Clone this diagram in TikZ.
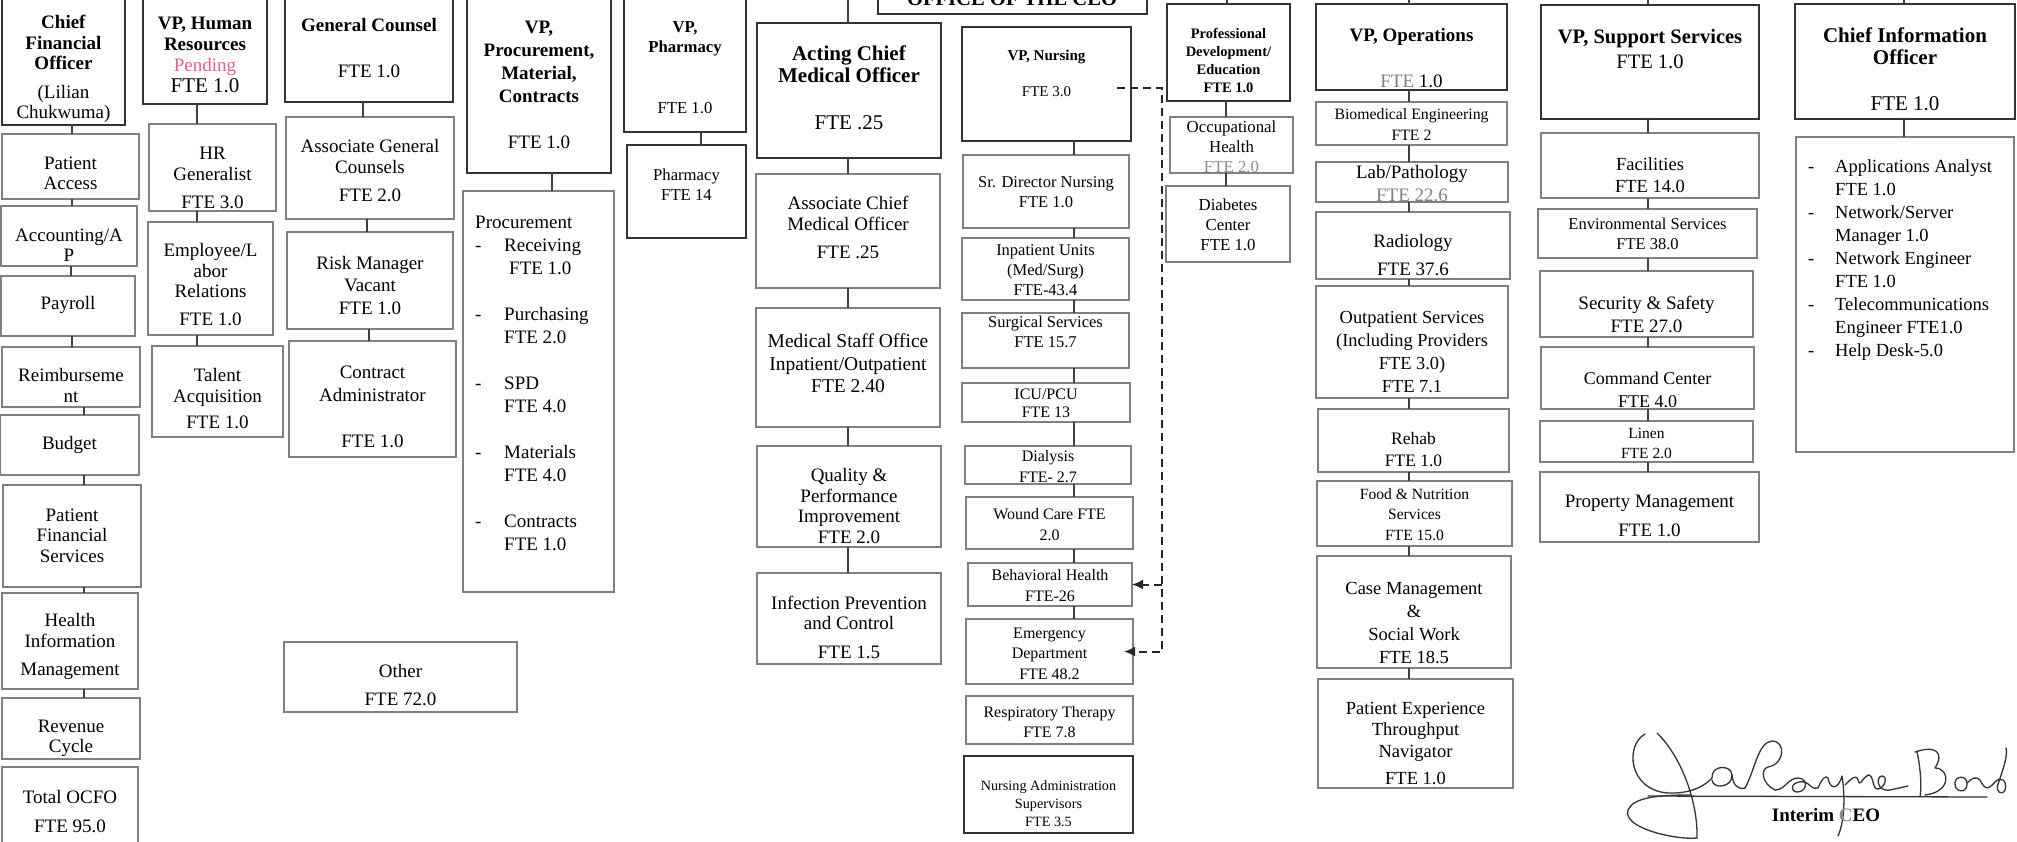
\documentclass[tikz,border=0pt]{standalone}
\usepackage{fontspec}
\setmainfont{Liberation Serif}
\usetikzlibrary{arrows.meta}
\definecolor{pend}{RGB}{232,96,128}
\newcommand\fs[2]{\fontsize{#1pt}{#2pt}\selectfont}
\newcommand\bx[9]{%
 \node[#6, minimum width={(#4)-(#2)}, minimum height={(#5)-(#3)}] (#1) at ({((#2)+(#4))/2},{((#3)+(#5))/2}) {};
 \node[txt, font=#8] (#1-t) at ({((#2)+(#4))/2},#7) {#9};}
\newcommand\vc[3]{\draw[conn] (#3,0 |- #1.south) -- (#3,0 |- #2.north);}
\begin{document}
\begin{tikzpicture}[x=1pt,y=-1pt,
  box/.style={rectangle, draw=black!50, line width=1.4pt, inner sep=0pt, outer sep=0pt},
  tbox/.style={rectangle, draw=black!80, line width=2pt, inner sep=0pt, outer sep=0pt},
  txt/.style={align=center, inner sep=0pt, outer sep=0pt},
  conn/.style={draw=black!75, line width=1.8pt},
  dsh/.style={draw=black!85, line width=2pt, dash pattern=on 8pt off 5pt, -{Latex[length=11pt,width=10pt]}},
  sig/.style={draw=black!80, line width=1.3pt, line cap=round, line join=round}]
\fill[white] (0,0) rectangle (2017,841);
\useasboundingbox (0,0) rectangle (2017,841);

% ---- CEO box (cut at top)
\node[tbox, minimum width=269, minimum height=40] (ceo) at (1012.5,-6) {};
\node[anchor=base, inner sep=0pt, font=\fs{20.6}{22}\bfseries] (ceo-t) at (1012,5) {OFFICE OF THE CEO};

% ---- CFO column
\bx{cfo}{2}{-10}{125}{125}{tbox}{69}{\fs{19}{20.5}}{\textbf{Chief}\\\textbf{Financial}\\\textbf{Officer}\\[8pt](Lilian\\Chukwuma)}
\bx{pa}{2}{134}{139}{199}{box}{173}{\fs{19}{20}}{Patient\\Access}
\bx{acc}{1}{206}{137}{266}{box}{245}{\fs{19}{20}}{Accounting/A\\P}
\bx{pay}{1}{276}{135}{336}{box}{305}{\fs{19}{20}}{Payroll}
\bx{reim}{2}{347}{140}{407}{box}{385.5}{\fs{19}{21}}{Reimburseme\\nt}
\bx{bud}{0}{415}{139}{475}{box}{445}{\fs{19}{20}}{Budget}
\bx{pfs}{3}{485}{141}{587}{box}{535.5}{\fs{19}{20.5}}{Patient\\Financial\\Services}
\bx{him}{2}{593}{138}{689}{box}{646.5}{\fs{19}{21}}{Health\\Information\\[7pt]Management}
\bx{rev}{2}{698}{140}{759}{box}{738}{\fs{19}{20}}{Revenue\\Cycle}
\bx{tot}{2}{767}{138}{850}{box}{811.5}{\fs{19}{21}}{Total OCFO\\[8pt]FTE 95.0}
\vc{cfo}{pa}{72}\vc{pa}{acc}{72}\vc{acc}{pay}{71}\vc{pay}{reim}{72}
\vc{reim}{bud}{84}\vc{bud}{pfs}{84}\vc{pfs}{him}{84}\vc{him}{rev}{84}

% ---- HR column
\bx{vphr}{143}{-10}{267}{104}{tbox}{54.5}{\fs{19}{21}}{\textbf{VP, Human}\\\textbf{Resources}\\{\color{pend}Pending}\\{\fs{21}{21}FTE 1.0}}
\bx{hrg}{149}{124}{276}{211}{box}{177.5}{\fs{19}{21}}{HR\\Generalist\\[7pt]FTE 3.0}
\bx{elr}{148}{222}{273}{335}{box}{284.5}{\fs{19}{20.5}}{Employee/L\\abor\\Relations\\[7pt]FTE 1.0}
\bx{ta}{152}{346}{283}{437}{box}{398.5}{\fs{19}{21}}{Talent\\Acquisition\\[5pt]FTE 1.0}
\vc{vphr}{hrg}{197}\vc{hrg}{elr}{197}\vc{elr}{ta}{197}

% ---- General Counsel column
\bx{gc}{285}{-10}{453}{102}{tbox}{48}{\fs{19}{21}}{\textbf{General Counsel}\\[25pt]FTE 1.0}
\bx{agc}{286}{117}{454}{219}{box}{170.5}{\fs{19}{21}}{Associate General\\Counsels\\[7pt]FTE 2.0}
\bx{risk}{287}{232}{453}{329}{box}{285.5}{\fs{19}{22.5}}{Risk Manager\\Vacant\\FTE 1.0}
\bx{ca}{289}{341}{456}{457}{box}{406.5}{\fs{19}{23}}{Contract\\Administrator\\[23pt]FTE 1.0}
\bx{oth}{284}{642}{517}{712}{box}{685}{\fs{19}{28}}{Other\\FTE 72.0}
\vc{gc}{agc}{363}\vc{agc}{risk}{367}\vc{risk}{ca}{369}

% ---- Procurement
\bx{vpproc}{467}{-10}{611}{173}{tbox}{84.5}{\fs{19}{23}}{\textbf{VP,}\\\textbf{Procurement,}\\\textbf{Material,}\\\textbf{Contracts}\\[23pt]FTE 1.0}
\node[box, minimum width=151, minimum height=401] (proc) at (538.5,391.5) {};
\node[anchor=west, align=left, inner sep=0pt, font=\fs{19}{23}] (proc-t) at (475,383)
 {Procurement\\\makebox[29pt][l]{-}Receiving\\\hspace*{34pt}FTE 1.0\\[23pt]\makebox[29pt][l]{-}Purchasing\\\hspace*{29pt}FTE 2.0\\[23pt]\makebox[29pt][l]{-}SPD\\\hspace*{29pt}FTE 4.0\\[23pt]\makebox[29pt][l]{-}Materials\\\hspace*{29pt}FTE 4.0\\[23pt]\makebox[29pt][l]{-}Contracts\\\hspace*{29pt}FTE 1.0};
\vc{vpproc}{proc}{552}

% ---- Pharmacy
\bx{vpph}{624}{-10}{746}{132}{tbox}{67.5}{\fs{16.7}{20}}{\textbf{VP,}\\\textbf{Pharmacy}\\[41pt]FTE 1.0}
\bx{pharm}{627}{145}{746}{238}{tbox}{185}{\fs{16.7}{20}}{Pharmacy\\FTE 14}
\vc{vpph}{pharm}{701}

% ---- CMO column
\bx{cmo}{757}{23}{941}{158}{tbox}{87.5}{\fs{21}{22}}{\textbf{Acting Chief}\\\textbf{Medical Officer}\\[25pt]FTE .25}
\bx{acmo}{756}{174}{940}{288}{box}{227.5}{\fs{19}{21}}{Associate Chief\\Medical Officer\\[7pt]FTE .25}
\bx{mso}{756}{308}{940}{427}{box}{363.5}{\fs{19.5}{22.5}}{Medical Staff Office\\Inpatient/Outpatient\\FTE 2.40}
\bx{qpi}{757}{446}{941}{547}{box}{506}{\fs{19}{20.7}}{Quality \&\\Performance\\Improvement\\FTE 2.0}
\bx{ipc}{757}{573}{941}{664}{box}{627.5}{\fs{19}{20}}{Infection Prevention\\and Control\\[9pt]FTE 1.5}
\vc{cmo}{acmo}{848}\vc{acmo}{mso}{848}\vc{mso}{qpi}{848}\vc{qpi}{ipc}{848}
\coordinate (bus-cmo) at (848,-5);
\draw[conn] (848,0 |- cmo.north) -- (bus-cmo);

% ---- Nursing column
\bx{vpn}{962}{27}{1131}{141}{tbox}{73}{\fs{15}{20}}{\textbf{VP, Nursing}\\[16pt]FTE 3.0}
\bx{srd}{963}{155}{1129}{228}{box}{192}{\fs{16.5}{20}}{Sr. Director Nursing\\FTE 1.0}
\bx{inp}{962}{238}{1129}{300}{box}{270}{\fs{16.5}{20}}{Inpatient Units\\(Med/Surg)\\FTE-43.4}
\bx{surg}{962}{313}{1129}{368}{box}{332}{\fs{16.5}{20}}{Surgical Services\\FTE 15.7}
\bx{icu}{962}{383}{1130}{422}{box}{403}{\fs{16}{18}}{ICU/PCU\\FTE 13}
\bx{dia}{965}{446}{1131}{484}{box}{466.5}{\fs{16}{20.5}}{Dialysis\\FTE- 2.7}
\bx{wc}{966}{497}{1133}{549}{box}{524.5}{\fs{16}{20.5}}{Wound Care FTE\\2.0}
\bx{bh}{968}{563}{1132}{606}{box}{585.5}{\fs{16}{20.5}}{Behavioral Health\\FTE-26}
\bx{er}{966}{619}{1133}{684}{box}{653.5}{\fs{16}{20.5}}{Emergency\\Department\\FTE 48.2}
\bx{rt}{966}{696}{1133}{744}{box}{722}{\fs{16}{20}}{Respiratory Therapy\\FTE 7.8}
\bx{nas}{964}{756}{1133}{833}{tbox}{804}{\fs{14.2}{18}}{Nursing Administration\\Supervisors\\FTE 3.5}
\vc{vpn}{srd}{1074}\vc{srd}{inp}{1074}\vc{inp}{surg}{1074}\vc{surg}{icu}{1074}
\vc{icu}{dia}{1074}\vc{dia}{wc}{1074}\vc{wc}{bh}{1074}\vc{bh}{er}{1074}
\coordinate (dk1) at (1162,88);
\draw[dsh] ([shift={(-14pt,-4pt)}]vpn.east) -- (dk1) -- (1162,0 |- er.east) -- ([xshift=-9pt]er.east);
\draw[dsh] (1162,0 |- bh.east) -- (bh.east);

% ---- Professional development
\bx{pd}{1167}{4}{1290}{101}{tbox}{60}{\fs{14.5}{18}}{\textbf{Professional}\\\textbf{Development/}\\\textbf{Education}\\\textbf{FTE 1.0}}
\bx{oh}{1170}{117}{1293}{173}{box}{147}{\fs{16.8}{20}}{Occupational\\Health\\{\color{black!45}FTE 2.0}}
\bx{dc}{1166}{186}{1290}{262}{box}{225}{\fs{16.8}{20}}{Diabetes\\Center\\FTE 1.0}
\vc{pd}{oh}{1226}\vc{oh}{dc}{1226}
\coordinate (bus-pd) at (1227,-5);
\draw[conn] (1227,0 |- pd.north) -- (bus-pd);

% ---- Operations
\bx{vpo}{1316}{4}{1507}{90}{tbox}{58}{\fs{19}{21}}{\textbf{VP, Operations}\\[25pt]{\color{black!50}FTE} 1.0}
\bx{bio}{1316}{102}{1507}{145}{box}{124.5}{\fs{15.8}{21}}{Biomedical Engineering\\FTE 2}
\bx{lab}{1316}{162}{1508}{202}{box}{183.5}{\fs{19}{23}}{Lab/Pathology\\{\color{black!50}FTE 22.6}}
\bx{rad}{1316}{212}{1510}{279}{box}{255}{\fs{19}{28}}{Radiology\\FTE 37.6}
\bx{out}{1316}{286}{1508}{398}{box}{352.5}{\fs{18.4}{23}}{Outpatient Services\\(Including Providers\\FTE 3.0)\\FTE 7.1}
\bx{reh}{1318}{409}{1509}{472}{box}{450}{\fs{17.5}{22}}{Rehab\\FTE 1.0}
\bx{fns}{1317}{481}{1512}{546}{box}{514.5}{\fs{15.6}{20.5}}{Food \& Nutrition\\Services\\FTE 15.0}
\bx{cms}{1317}{556}{1511}{668}{box}{622.5}{\fs{18.5}{23}}{Case Management\\\&\\Social Work\\FTE 18.5}
\bx{pex}{1318}{679}{1513}{788}{box}{743.5}{\fs{18.5}{21.5}}{Patient Experience\\Throughput\\Navigator\\[6pt]FTE 1.0}
\vc{vpo}{bio}{1409}\vc{bio}{lab}{1409}\vc{lab}{rad}{1409}\vc{rad}{out}{1409}
\vc{out}{reh}{1409}\vc{reh}{fns}{1409}\vc{fns}{cms}{1409}\vc{cms}{pex}{1409}
\coordinate (bus-vpo) at (1409,-5);
\draw[conn] (1409,0 |- vpo.north) -- (bus-vpo);

% ---- Support services
\bx{vps}{1541}{5}{1759}{119}{tbox}{49.5}{\fs{20.5}{25}}{\textbf{VP, Support Services}\\FTE 1.0}
\bx{fac}{1541}{133}{1759}{198}{box}{175}{\fs{18.5}{22}}{Facilities\\FTE 14.0}
\bx{env}{1538}{209}{1757}{258}{box}{234}{\fs{16.5}{20}}{Environmental Services\\FTE 38.0}
\bx{sec}{1540}{271}{1753}{337}{box}{314.5}{\fs{19}{23}}{Security \& Safety\\FTE 27.0}
\bx{cc}{1541}{347}{1754}{409}{box}{389.5}{\fs{18}{23}}{Command Center\\FTE 4.0}
\bx{lin}{1540}{421}{1753}{462}{box}{443}{\fs{15.5}{20}}{Linen\\FTE 2.0}
\bx{pm}{1540}{472}{1759}{542}{box}{515.5}{\fs{19}{29}}{Property Management\\FTE 1.0}
\vc{vps}{fac}{1648}\vc{fac}{env}{1648}\vc{env}{sec}{1648}\vc{sec}{cc}{1648}
\vc{cc}{lin}{1648}\vc{lin}{pm}{1648}
\coordinate (bus-vps) at (1648,-5);
\draw[conn] (1648,0 |- vps.north) -- (bus-vps);

% ---- CIO
\bx{cio}{1795}{4}{2015}{119}{tbox}{69}{\fs{21}{22}}{\textbf{Chief Information}\\\textbf{Officer}\\[24pt]FTE 1.0}
\node[box, minimum width=218, minimum height=315] (ciol) at (1905,294.5) {};
\node[anchor=west, align=left, inner sep=0pt, font=\fs{18.5}{23}] (ciol-t) at (1808,260)
 {\makebox[27pt][l]{-}Applications Analyst\\\hspace*{27pt}FTE 1.0\\\makebox[27pt][l]{-}Network/Server\\\hspace*{27pt}Manager 1.0\\\makebox[27pt][l]{-}Network Engineer\\\hspace*{27pt}FTE 1.0\\\makebox[27pt][l]{-}Telecommunications\\\hspace*{27pt}Engineer FTE1.0\\\makebox[27pt][l]{-}Help Desk-5.0};
\vc{cio}{ciol}{1904}
\coordinate (bus-cio) at (1904,-5);
\draw[conn] (1904,0 |- cio.north) -- (bus-cio);

% ---- Signature
\draw[sig] (1648,796) -- (1987,797);
\draw[sig] (1657,733) .. controls (1680,755) and (1698,800) .. (1697,838);
\draw[sig] (1697,838) .. controls (1675,840) and (1622,828) .. (1628,810) .. controls (1633,797) and (1660,795) .. (1690,795);
\draw[sig] (1645,734) .. controls (1625,745) and (1628,790) .. (1668,793) .. controls (1690,794) and (1705,786) .. (1712,778);
\draw[sig] (1712,778) .. controls (1711,765) and (1731,764) .. (1732,775) .. controls (1733,787) and (1713,790) .. (1712,780);
\draw[sig] (1732,775) .. controls (1733,785) and (1738,790) .. (1745,788) .. controls (1755,770) and (1758,742) .. (1772,741) .. controls (1786,741) and (1785,764) .. (1768,767) .. controls (1760,769) and (1762,784) .. (1775,790);
\draw[sig] (1775,790) .. controls (1785,790) and (1788,778) .. (1798,778) .. controls (1808,778) and (1808,792) .. (1797,792) .. controls (1790,792) and (1790,780) .. (1805,782) .. controls (1810,784) and (1812,790) .. (1818,788);
\draw[sig] (1818,788) .. controls (1822,778) and (1826,775) .. (1828,778) .. controls (1830,790) and (1838,790) .. (1842,776) .. controls (1845,795) and (1845,820) .. (1838,836);
\draw[sig] (1845,785) .. controls (1852,778) and (1856,774) .. (1858,780) .. controls (1860,788) and (1862,778) .. (1868,775) .. controls (1874,774) and (1872,790) .. (1878,789) .. controls (1885,788) and (1888,776) .. (1882,776) .. controls (1876,776) and (1876,792) .. (1890,790) -- (1908,786);
\draw[sig] (1917,752) .. controls (1920,765) and (1922,785) .. (1920,797);
\draw[sig] (1915,752) .. controls (1935,745) and (1945,752) .. (1935,768) .. controls (1950,768) and (1952,792) .. (1925,795);
\draw[sig] (1955,783) .. controls (1955,775) and (1968,775) .. (1967,785) .. controls (1966,794) and (1954,792) .. (1955,783);
\draw[sig] (1967,783) .. controls (1972,778) and (1976,776) .. (1980,780) .. controls (1985,790) and (1988,790) .. (1995,782) .. controls (2000,776) and (2008,780) .. (2005,790) .. controls (2002,796) and (1995,792) .. (1998,784) .. controls (2003,770) and (2008,755) .. (2006,748);
\node[inner sep=0pt, font=\fs{19}{21}\bfseries] (sig-t) at (1826,815) {Interim {\color{black!45}C}EO};
\end{tikzpicture}
\end{document}
